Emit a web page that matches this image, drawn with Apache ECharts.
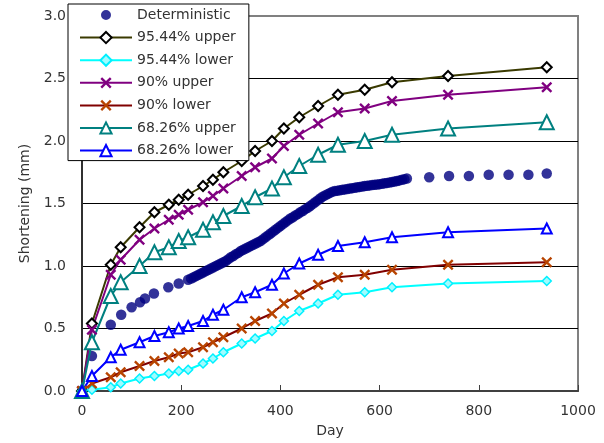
<!DOCTYPE html>
<html>
<head>
<meta charset="utf-8">
<script src="https://cdn.jsdelivr.net/npm/echarts@6/dist/echarts.min.js"></script>
<style>
  html, body { margin: 0; padding: 0; background: #fff; }
  #chart { width: 604px; height: 443px; }
</style>
</head>
<body>
<div id="chart"></div>
<script>
// Sampling days shared by the confidence-bound series
const boundDays = [0, 20, 58, 78, 116, 146, 175, 195, 214, 244, 264, 285, 322, 349, 383, 407, 438, 476, 516, 570, 625, 738, 937];

// Confidence bounds of the predicted shortening (mm)
const upper9544 = [0, 0.54, 1.01, 1.15, 1.31, 1.43, 1.49, 1.53, 1.57, 1.64, 1.69, 1.75, 1.84, 1.92, 2.00, 2.10, 2.19, 2.28, 2.37, 2.41, 2.47, 2.52, 2.59];
const lower9544 = [0, 0.01, 0.03, 0.06, 0.10, 0.12, 0.14, 0.16, 0.17, 0.22, 0.26, 0.31, 0.38, 0.42, 0.48, 0.56, 0.64, 0.70, 0.77, 0.79, 0.83, 0.86, 0.88];
const upper90 = [0, 0.49, 0.93, 1.05, 1.21, 1.30, 1.37, 1.41, 1.45, 1.51, 1.56, 1.62, 1.72, 1.79, 1.86, 1.96, 2.05, 2.14, 2.23, 2.26, 2.32, 2.37, 2.43];
const lower90 = [0, 0.06, 0.11, 0.15, 0.20, 0.24, 0.27, 0.30, 0.31, 0.35, 0.39, 0.43, 0.50, 0.56, 0.62, 0.70, 0.77, 0.85, 0.91, 0.93, 0.97, 1.01, 1.03];
const upper6826 = [0, 0.39, 0.76, 0.87, 1.00, 1.11, 1.15, 1.20, 1.23, 1.29, 1.35, 1.40, 1.48, 1.55, 1.62, 1.71, 1.80, 1.89, 1.97, 2.00, 2.05, 2.10, 2.15];
const lower6826 = [0, 0.12, 0.27, 0.33, 0.39, 0.44, 0.47, 0.50, 0.52, 0.56, 0.61, 0.65, 0.75, 0.79, 0.85, 0.94, 1.02, 1.09, 1.16, 1.19, 1.23, 1.27, 1.30];

// Deterministic prediction: days and shortening (mm)
const detDays = [
  0, 20, 58, 79, 100, 117, 127, 145, 174, 195, 214,
  220, 225, 230, 235, 240, 245, 250, 255, 260, 265, 270, 275, 280, 285, 290, 295,
  300, 305, 310, 315, 320, 325, 330, 335, 340, 345, 350, 355, 360, 365, 370, 375,
  380, 385, 390, 395, 400, 405, 410, 415, 420, 425, 430, 435, 440, 445, 450, 455,
  460, 465, 470, 475, 480, 485, 490, 495, 500, 505, 510, 515, 520, 525, 530, 535,
  540, 545, 550, 555, 560, 565, 570, 575, 580, 585, 590, 595, 600, 605, 610, 615,
  620, 625, 630, 635, 640, 645, 650, 655,
  700, 740, 780, 820, 860, 900, 937
];
const detValues = [
  0, 0.28, 0.53, 0.61, 0.67, 0.71, 0.74, 0.78, 0.83, 0.86, 0.89,
  0.90, 0.91, 0.92, 0.93, 0.94, 0.95, 0.96, 0.97, 0.98, 0.99, 1.00, 1.01, 1.02, 1.03, 1.04, 1.055,
  1.07, 1.08, 1.095, 1.105, 1.12, 1.13, 1.14, 1.15, 1.16, 1.17, 1.18, 1.19, 1.20, 1.215, 1.23, 1.245,
  1.26, 1.275, 1.29, 1.305, 1.32, 1.335, 1.35, 1.365, 1.38, 1.39, 1.405, 1.415, 1.43, 1.44, 1.455, 1.465,
  1.48, 1.495, 1.51, 1.525, 1.54, 1.555, 1.565, 1.575, 1.585, 1.595, 1.60, 1.603, 1.606, 1.61, 1.613, 1.616,
  1.62, 1.623, 1.626, 1.63, 1.633, 1.636, 1.64, 1.642, 1.645, 1.648, 1.65, 1.652, 1.655, 1.658, 1.662, 1.665,
  1.668, 1.672, 1.676, 1.68, 1.685, 1.69, 1.695, 1.70,
  1.71, 1.72, 1.72, 1.73, 1.73, 1.73, 1.74
];

const xTicks = { min: 0, max: 1000, step: 200 };
const yTicks = { min: 0, max: 3, step: 0.5 };

const pairs = (xs, ys) => xs.map((x, i) => [x, ys[i]]);

// filled "x" cross glyph
const crossPath = 'path://M0,1.5 L1.5,0 L5,3.5 L8.5,0 L10,1.5 L6.5,5 L10,8.5 L8.5,10 L5,6.5 L1.5,10 L0,8.5 L3.5,5 Z';
// legend dot: a circle of diameter 10 inside a 14 x 14 box
const legendDot = 'path://M0,0 L0.01,0 L0,0.01 Z M14,14 L13.99,14 L14,13.99 Z M2,7 A5,5 0 1 0 12,7 A5,5 0 1 0 2,7 Z';

const font = 'DejaVu Sans';
const textColor = '#333333';

function lineSeries(name, values, lineColor, symbol, size, itemStyle) {
  return {
    name: name,
    type: 'line',
    data: pairs(boundDays, values),
    symbol: symbol,
    symbolSize: size,
    showAllSymbol: true,
    lineStyle: { color: lineColor, width: 2 },
    itemStyle: itemStyle,
    emphasis: { disabled: true },
    animation: false
  };
}

const chart = echarts.init(document.getElementById('chart'), null, { renderer: 'canvas' });

chart.setOption({
  backgroundColor: '#ffffff',
  animation: false,
  grid: {
    left: 82, right: 26, top: 16, bottom: 51,
    show: true, borderColor: '#808080', borderWidth: 2, backgroundColor: 'transparent'
  },
  legend: {
    orient: 'vertical',
    left: 68, top: 4,
    itemWidth: 52, itemHeight: 14, itemGap: 8.6,
    padding: [4, 13, 3, 11],
    backgroundColor: '#ffffff',
    borderColor: '#000000', borderWidth: 1,
    textStyle: { fontFamily: font, fontSize: 14, color: textColor },
    data: [
      { name: 'Deterministic', icon: legendDot },
      '95.44% upper', '95.44% lower', '90% upper', '90% lower', '68.26% upper', '68.26% lower'
    ]
  },
  xAxis: {
    type: 'value',
    min: xTicks.min, max: xTicks.max, interval: xTicks.step,
    name: 'Day', nameLocation: 'middle', nameGap: 33,
    nameTextStyle: { fontFamily: font, fontSize: 14, color: textColor },
    axisLine: { show: true, onZero: false, lineStyle: { color: '#404040', width: 2 } },
    axisTick: { show: true, inside: true, length: 6, lineStyle: { color: '#404040', width: 1 } },
    axisLabel: { fontFamily: font, fontSize: 14, color: textColor, margin: 13,
      formatter: v => String(v) },
    splitLine: { show: false }
  },
  yAxis: {
    type: 'value',
    min: yTicks.min, max: yTicks.max, interval: yTicks.step,
    name: 'Shortening (mm)', nameLocation: 'middle', nameGap: 47,
    nameTextStyle: { fontFamily: font, fontSize: 14, color: textColor },
    axisLine: { show: true, onZero: false, lineStyle: { color: '#303030', width: 2 } },
    axisTick: { show: false },
    axisLabel: { fontFamily: font, fontSize: 14, color: textColor, margin: 16,
      formatter: v => v.toFixed(1) },
    splitLine: { show: true, showMinLine: false, showMaxLine: false, lineStyle: { color: '#000000', width: 1 } }
  },
  series: [
    lineSeries('95.44% upper', upper9544, '#3a3a00', 'diamond', 10,
      { color: '#ffffff', borderColor: '#000000', borderWidth: 2 }),
    lineSeries('95.44% lower', lower9544, '#00ffff', 'diamond', 9,
      { color: '#9ffcff', borderColor: '#00f0ff', borderWidth: 1.5 }),
    lineSeries('90% upper', upper90, '#800080', crossPath, 11,
      { color: '#800080' }),
    lineSeries('90% lower', lower90, '#800000', crossPath, 11,
      { color: '#b84400' }),
    lineSeries('68.26% upper', upper6826, '#008080', 'triangle', 14,
      { color: '#ffffff', borderColor: '#008080', borderWidth: 2 }),
    lineSeries('68.26% lower', lower6826, '#0000ff', 'triangle', 10,
      { color: '#ffffff', borderColor: '#0000ff', borderWidth: 2 }),
    {
      name: 'Deterministic',
      type: 'scatter',
      data: pairs(detDays, detValues),
      symbol: 'circle',
      symbolSize: 10.5,
      itemStyle: { color: '#000080' },
      emphasis: { disabled: true },
      animation: false
    }
  ]
});
</script>
</body>
</html>
